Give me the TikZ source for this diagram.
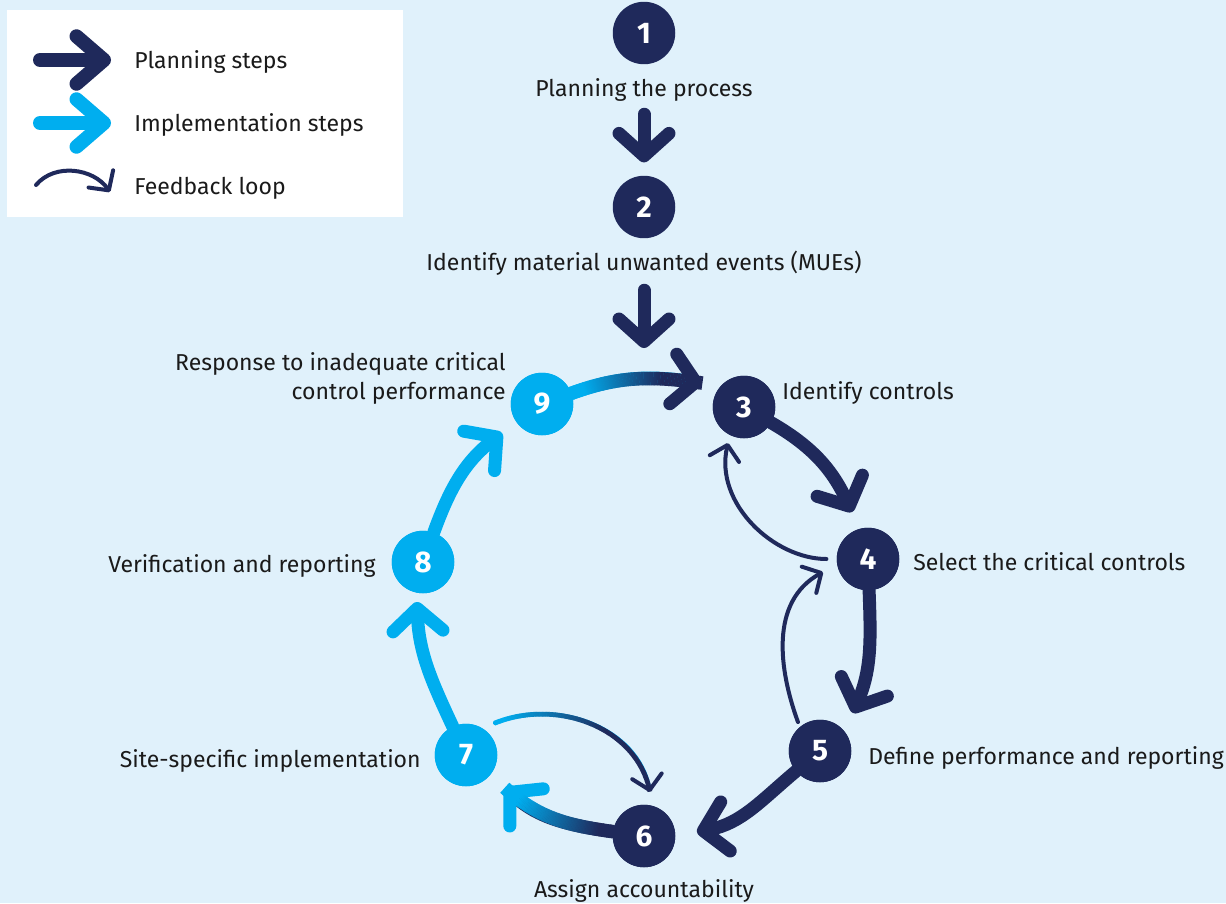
\documentclass[tikz,border=0pt]{standalone}
\usepackage{fontspec}
\setmainfont{Fira Sans}
\usetikzlibrary{arrows.meta,decorations.markings}
\definecolor{bg}{HTML}{E0F1FB}
\definecolor{navy}{HTML}{1F295B}
\definecolor{cyanC}{HTML}{00AEEF}
\definecolor{txt}{HTML}{1A1A1A}
\tikzset{
  stepnode/.style={circle, fill=#1, minimum size=1.25cm, inner sep=0pt, text=white,
    font=\fontsize{17}{17}\selectfont\bfseries},
  lbl/.style={font=\fontsize{13.1}{16.4}\selectfont, text=txt, inner sep=0pt},
  bigarrow/.style={draw=#1, line width=0.26cm, line cap=round,
    -{Straight Barb[length=0.45cm,width=1cm,round,color=#1]}},
  legarrow/.style={draw=#1, line width=0.28cm, line cap=round,
    -{Straight Barb[length=0.55cm,width=0.95cm,round,color=#1]}},
  thinarrow/.style={draw=#1, line width=0.08cm, line cap=round,
    -{Straight Barb[length=0.28cm,width=0.6cm,round,color=#1]}},
  gradline/.style n args={5}{postaction={decorate, decoration={markings,
    mark=between positions 0 and 1 step 0.8pt with {
      \pgfmathsetmacro\fr{100*min(1,max(0,(\pgfkeysvalueof{/pgf/decoration/mark info/distance from start}/\pgfdecoratedpathlength-#3)/(#4-#3)))}
      \draw[-, shorten <=0pt, shorten >=0pt, line width=#5, line cap=butt, color=#2!\fr!#1] (-0.5pt,0) -- (0.5pt,0);}}}},
}
\begin{document}
\begin{tikzpicture}[x=0.02cm,y=0.02cm]
\path[fill=bg, use as bounding box] (0,0) rectangle (1226,-903);
% legend
\fill[white] (7,-10) rectangle (403,-217);
\coordinate (la1) at (40,-60); \coordinate (lb1) at (111,-60);
\coordinate (la2) at (40,-123); \coordinate (lb2) at (111,-123);
\coordinate (la3) at (36,-185); \coordinate (lb3) at (110,-192);
\draw[legarrow=navy] (la1) -- (lb1);
\draw[legarrow=cyanC] (la2) -- (lb2);
\draw[thinarrow=navy] (la3) to[out=50,in=125] (lb3);
\node[lbl, anchor=base west] (lg1) at (134,-68) {Planning steps};
\node[lbl, anchor=base west] (lg2) at (134,-131) {Implementation steps};
\node[lbl, anchor=base west] (lg3) at (134,-194) {Feedback loop};
% step circles
\node[stepnode=navy] (n1) at (644,-33) {1};
\node[stepnode=navy] (n2) at (644,-207) {2};
\node[stepnode=navy] (n3) at (744,-407) {3};
\node[stepnode=navy] (n4) at (868,-559) {4};
\node[stepnode=navy] (n5) at (820,-751) {5};
\node[stepnode=navy] (n6) at (644,-836) {6};
\node[stepnode=cyanC] (n7) at (466,-755) {7};
\node[stepnode=cyanC] (n8) at (423,-562) {8};
\node[stepnode=cyanC] (n9) at (542,-404) {9};
% labels
\node[lbl, anchor=base] (L1) at (644,-96) {Planning the process};
\node[lbl, anchor=base] (L2) at (644,-270) {Identify material unwanted events (MUEs)};
\node[lbl, anchor=base west] (L3) at (782,-399) {Identify controls};
\node[lbl, anchor=base west] (L4) at (913,-570) {Select the critical controls};
\node[lbl, anchor=base west] (L5) at (868,-764) {Define performance and reporting};
\node[lbl, anchor=base] (L6) at (644,-897) {Assign accountability};
\node[lbl, anchor=base east] (L7) at (421,-767) {Site-specific implementation};
\node[lbl, anchor=base east] (L8) at (376,-572) {Verification and reporting};
\node[lbl, anchor=base east, align=right] (L9) at (506,-399) {Response to inadequate critical\\control performance};
% arrow tips and free ends
\coordinate (t23) at (644,-348);
\coordinate (t93) at (702,-383);
\coordinate (t34) at (852,-512);
\coordinate (t45) at (853,-713);
\coordinate (t56) at (697,-832);
\coordinate (t67) at (505,-788);
\coordinate (t78) at (417,-602);
\coordinate (t89) at (502,-433);
\coordinate (f43) at (728,-443);
\coordinate (f54) at (823,-572);
\coordinate (s76) at (495,-723);
\coordinate (f76) at (650,-792);
\draw[bigarrow=navy, shorten <=0.26cm, shorten >=0.26cm] (L1) -- (n2);
\draw[bigarrow=navy, shorten <=0.3cm] (L2) -- (t23);
\draw[bigarrow=navy, draw=cyanC, gradline={cyanC}{navy}{0.1}{0.7}{0.27cm}] (n9) to[out=20,in=172] (t93);
\draw[bigarrow=navy] (n3) to[out=-30,in=115] (t34);
\draw[bigarrow=navy] (n4) to[out=-88,in=67] (t45);
\draw[bigarrow=navy] (n5) to[out=-140,in=11] (t56);
\draw[bigarrow=cyanC, draw=navy, gradline={navy}{cyanC}{0.12}{0.85}{0.27cm}] (n6) to[out=172,in=-42] (t67);
\draw[bigarrow=cyanC] (n7) to[out=115,in=-88] (t78);
\draw[bigarrow=cyanC] (n8) to[out=70,in=-142] (t89);
\draw[thinarrow=navy, shorten <=0.2cm] (n4) to[out=180,in=-103] (f43);
\draw[thinarrow=navy, shorten <=0.1cm] (n5.130) to[out=110,in=-151] (f54);
\draw[thinarrow=navy, draw=cyanC, gradline={cyanC}{navy}{0.05}{0.6}{0.095cm}] (s76) to[out=22,in=101] (f76);
% redraw circles on top
\foreach \n/\c/\t in {n3/navy/3,n4/navy/4,n5/navy/5,n6/navy/6,n7/cyanC/7,n8/cyanC/8,n9/cyanC/9}
  \node[stepnode=\c] at (\n) {\t};
\end{tikzpicture}
\end{document}
